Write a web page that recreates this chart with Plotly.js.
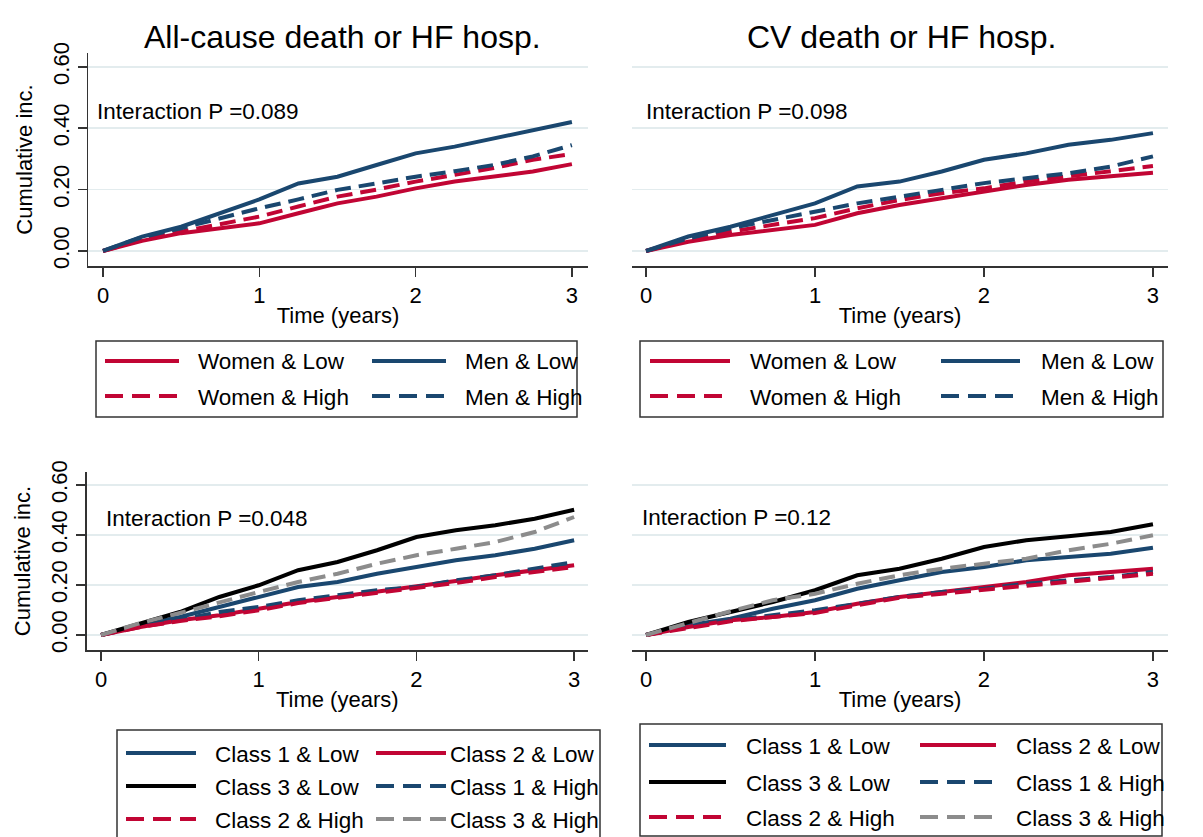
<!DOCTYPE html>
<html>
<head>
<meta charset="utf-8">
<script src="https://cdn.plot.ly/plotly-3.0.1.min.js"></script>
<style>html,body{margin:0;padding:0;background:#fff;}#chart{width:1203px;height:837px;}</style>
</head>
<body>
<div id="chart"></div>
<script>
// ---------- data ----------
var times = [0, 0.25, 0.5, 0.75, 1, 1.25, 1.5, 1.75, 2, 2.25, 2.5, 2.75, 3];

var panelTitles = ["All-cause death or HF hosp.", "CV death or HF hosp."];
var pValues = ["Interaction P =0.089", "Interaction P =0.098", "Interaction P =0.048", "Interaction P =0.12"];
var xTickVals = [0, 1, 2, 3];
var yTickVals = [0, 0.2, 0.4, 0.6];
var yTickText = ["0.00", "0.20", "0.40", "0.60"];
var xTitle = "Time (years)";
var yTitle = "Cumulative inc.";

var sexNames = ["Women & Low", "Men & Low", "Women & High", "Men & High"];
var classNames = ["Class 1 & Low", "Class 2 & Low", "Class 3 & Low", "Class 1 & High", "Class 2 & High", "Class 3 & High"];

// Panel 1: all-cause death or HF hosp., by sex
var p1WomenLow  = [0, .033, .058, .074, .090, .123, .155, .177, .204, .226, .242, .259, .283];
var p1MenLow    = [0, .047, .079, .123, .168, .220, .242, .280, .318, .340, .367, .395, .420];
var p1WomenHigh = [0, .036, .063, .087, .112, .145, .177, .200, .226, .248, .270, .297, .316];
var p1MenHigh   = [0, .045, .074, .107, .139, .168, .199, .220, .242, .260, .280, .308, .345];

// Panel 2: CV death or HF hosp., by sex
var p2WomenLow  = [0, .030, .052, .068, .085, .123, .150, .172, .193, .215, .232, .242, .255];
var p2MenLow    = [0, .047, .079, .117, .155, .210, .226, .259, .297, .318, .346, .362, .384];
var p2WomenHigh = [0, .036, .063, .085, .107, .139, .166, .188, .204, .226, .242, .259, .277];
var p2MenHigh   = [0, .041, .074, .101, .128, .155, .177, .199, .221, .237, .253, .275, .308];

// Panel 3: all-cause death or HF hosp., by class
var p3C1Low  = [0, .039, .072, .112, .152, .192, .212, .245, .272, .299, .319, .345, .379];
var p3C2Low  = [0, .032, .059, .079, .105, .132, .152, .172, .195, .216, .239, .259, .279];
var p3C3Low  = [0, .045, .092, .152, .199, .259, .292, .339, .392, .419, .439, .465, .501];
var p3C1High = [0, .035, .061, .092, .112, .139, .159, .179, .192, .219, .239, .265, .292];
var p3C2High = [0, .032, .056, .075, .099, .128, .149, .168, .185, .208, .232, .252, .272];
var p3C3High = [0, .048, .088, .132, .172, .212, .245, .285, .319, .345, .372, .412, .472];

// Panel 4: CV death or HF hosp., by class
var p4C1Low  = [0, .039, .065, .105, .139, .185, .219, .252, .272, .299, .312, .325, .349];
var p4C2Low  = [0, .032, .059, .072, .092, .125, .152, .172, .192, .212, .239, .252, .265];
var p4C3Low  = [0, .052, .092, .132, .179, .239, .265, .305, .352, .379, .395, .412, .443];
var p4C1High = [0, .035, .059, .079, .099, .125, .152, .172, .185, .205, .219, .232, .252];
var p4C2High = [0, .029, .055, .072, .088, .119, .149, .165, .181, .199, .216, .232, .245];
var p4C3High = [0, .049, .095, .139, .165, .205, .239, .265, .285, .305, .339, .365, .399];

// ---------- styles ----------
var W = 1203, H = 837;
function px(x) { return x / W; }
function py(y) { return 1 - y / H; }
var RED = "#c10534", NAVY = "#1a476f", GRAY = "#8c8c8c", BLACK = "#000000";
var DASH = "16px,8px", LDASH = "18px,9px";
var FONT = "Liberation Sans, Arial, sans-serif";
var sexStyles = [
  {color: RED, dash: "solid"}, {color: NAVY, dash: "solid"},
  {color: RED, dash: DASH}, {color: NAVY, dash: DASH}
];
var classStyles = [
  {color: NAVY, dash: "solid"}, {color: RED, dash: "solid"}, {color: BLACK, dash: "solid"},
  {color: NAVY, dash: DASH}, {color: RED, dash: DASH}, {color: GRAY, dash: DASH}
];

var panels = [
  {series: [p1WomenLow, p1MenLow, p1WomenHigh, p1MenHigh], names: sexNames, styles: sexStyles, xa: "x", ya: "y"},
  {series: [p2WomenLow, p2MenLow, p2WomenHigh, p2MenHigh], names: sexNames, styles: sexStyles, xa: "x2", ya: "y2"},
  {series: [p3C1Low, p3C2Low, p3C3Low, p3C1High, p3C2High, p3C3High], names: classNames, styles: classStyles, xa: "x3", ya: "y3"},
  {series: [p4C1Low, p4C2Low, p4C3Low, p4C1High, p4C2High, p4C3High], names: classNames, styles: classStyles, xa: "x4", ya: "y4"}
];

var traces = [];
panels.forEach(function (p) {
  p.series.forEach(function (s, i) {
    traces.push({
      type: "scatter", mode: "lines", x: times, y: s, name: p.names[i],
      xaxis: p.xa, yaxis: p.ya, showlegend: false, hoverinfo: "skip",
      line: {color: p.styles[i].color, width: 4, dash: p.styles[i].dash}
    });
  });
});

function xAxis(dom, range, anchor) {
  return {
    domain: dom, range: range, anchor: anchor, tickvals: xTickVals, ticks: "outside", ticklen: 9,
    tickwidth: 1.5, tickcolor: "#333", showline: true, linecolor: "#333", linewidth: 1.5,
    showgrid: false, zeroline: false, tickfont: {size: 22, color: "#000", family: FONT},
    title: {text: xTitle, font: {size: 22, color: "#000", family: FONT}, standoff: 0}
  };
}
function yAxis(dom, range, anchor, labelled) {
  var a = {
    domain: dom, range: range, anchor: anchor, tickvals: yTickVals, ticktext: yTickText,
    showgrid: true, gridcolor: "#e3ecee", gridwidth: 1.5, zeroline: false
  };
  if (labelled) {
    a.ticks = "outside"; a.ticklen = 9; a.tickwidth = 1.5; a.tickcolor = "#333";
    a.showline = true; a.linecolor = "#333"; a.linewidth = 1.5;
    a.tickangle = -90; a.tickfont = {size: 22, color: "#000", family: FONT};
    a.title = {text: yTitle, font: {size: 22, color: "#000", family: FONT}, standoff: 10};
  } else {
    a.showticklabels = false; a.ticks = ""; a.showline = false;
  }
  return a;
}

var topY = [py(266), py(53)], botY = [py(650), py(472)];
var layout = {
  width: W, height: H, margin: {l: 0, r: 0, t: 0, b: 0},
  paper_bgcolor: "#fff", plot_bgcolor: "#fff", showlegend: false,
  font: {family: FONT, color: "#000"},
  xaxis:  xAxis([px(88), px(588)], [-0.096, 3.103], "y"),
  yaxis:  yAxis(topY, [-0.049, 0.645], "x", true),
  xaxis2: xAxis([px(632), px(1168)], [-0.083, 3.089], "y2"),
  yaxis2: yAxis(topY, [-0.049, 0.645], "x2", false),
  xaxis3: xAxis([px(86.5), px(588)], [-0.092, 3.088], "y3"),
  yaxis3: yAxis(botY, [-0.06, 0.652], "x3", true),
  xaxis4: xAxis([px(632), px(1168)], [-0.083, 3.089], "y4"),
  yaxis4: yAxis(botY, [-0.06, 0.652], "x4", false),
  annotations: [], shapes: []
};

function ann(text, x, y, size, xanchor) {
  layout.annotations.push({
    text: text, xref: "paper", yref: "paper", x: px(x), y: py(y), showarrow: false,
    xanchor: xanchor, yanchor: "middle", font: {size: size, color: "#000", family: FONT}
  });
}
ann(panelTitles[0], 342, 37, 32, "center");
ann(panelTitles[1], 901, 37, 32, "center");
ann(pValues[0], 95, 111, 22.5, "left");
ann(pValues[1], 644, 111, 22.5, "left");
ann(pValues[2], 104, 518, 22.5, "left");
ann(pValues[3], 640, 517, 22.5, "left");

// ---------- manual legends ----------
var legends = [
  {box: [96, 341, 577, 417], cols: [[105, 179, 196], [372, 446, 463]], rows: [361, 396], names: sexNames, styles: sexStyles},
  {box: [640, 341, 1163, 417], cols: [[650, 730, 748], [941, 1020, 1039]], rows: [361, 396], names: sexNames, styles: sexStyles},
  {box: [117, 730, 600, 850], cols: [[126, 196, 213], [376, 446, 448]], rows: [753, 786, 819], names: classNames, styles: classStyles},
  {box: [640, 724, 1162, 836], cols: [[649, 726, 744], [920, 996, 1014]], rows: [745, 782, 817], names: classNames, styles: classStyles}
];
legends.forEach(function (L) {
  layout.shapes.push({
    type: "rect", xref: "paper", yref: "paper",
    x0: px(L.box[0]), x1: px(L.box[2]), y0: py(L.box[3]), y1: py(L.box[1]),
    line: {color: "#333", width: 1.5}, fillcolor: "rgba(0,0,0,0)"
  });
  L.names.forEach(function (name, k) {
    var r = Math.floor(k / 2), c = k % 2;
    var col = L.cols[c], y = L.rows[r], st = L.styles[k];
    layout.shapes.push({
      type: "line", xref: "paper", yref: "paper",
      x0: px(col[0]), x1: px(col[1]), y0: py(y), y1: py(y),
      line: {color: st.color, width: 4, dash: st.dash === "solid" ? "solid" : LDASH}
    });
    ann(name, col[2], y + 1, 22.5, "left");
  });
});

Plotly.newPlot("chart", traces, layout, {staticPlot: true, displayModeBar: false});
</script>
</body>
</html>
